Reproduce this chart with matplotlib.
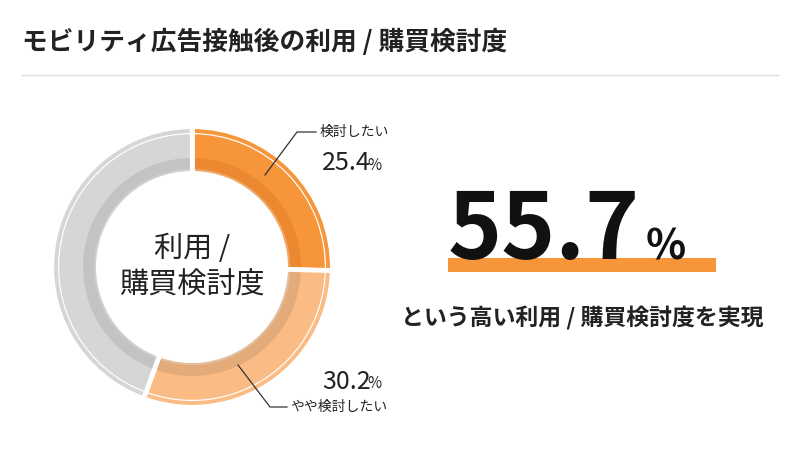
import matplotlib
matplotlib.use("Agg")
import matplotlib.pyplot as plt
from matplotlib.patches import Wedge, Rectangle
import math

plt.rcParams['font.family'] = ['Noto Sans CJK JP', 'DejaVu Sans']

labels = ["検討したい", "やや検討したい", "その他"]
values = [25.4, 30.2, 44.4]
colors = ["#f7953a", "#fbbb84", "#d6d6d8"]
inner_colors = ["#e8842c", "#d9a477", "#bbbbbd"]
total_label = "55.7"
title = "モビリティ広告接触後の利用 / 購買検討度"
subtitle = "という高い利用 / 購買検討度を実現"
center_text = "利用 /\n購買検討度"

fig = plt.figure(figsize=(8, 4.5), dpi=100)
ax = fig.add_axes([0, 0, 1, 1])
ax.set_xlim(0, 800); ax.set_ylim(450, 0); ax.axis('off')

fig.text(22/800, 1-42/450, title, fontsize=18.5, fontweight='bold', va='center', color='#222')
ax.plot([22, 778], [75, 75], color='#dddddd', lw=1)

cx, cy, R, r = 192, 267, 140, 96
start = 90.0
for v, c, ic in zip(values, colors, inner_colors):
    th = v / 100 * 360
    t1, t2 = start - th, start
    ax.add_patch(Wedge((cx, cy), R, -t2, -t1, width=R - r, facecolor=c, edgecolor='white', lw=3))
    ax.add_patch(Wedge((cx, cy), r + 13, -t2, -t1, width=13, facecolor=ic, edgecolor='none', alpha=0.7))
    ax.add_patch(Wedge((cx, cy), R - 6, -t2, -t1, width=1.2, facecolor='white', edgecolor='none'))
    start = t1
for v_acc in [0, values[0], values[0] + values[1]]:
    a = math.radians(90 - v_acc / 100 * 360)
    ax.plot([cx + (r - 2) * math.cos(a), cx + (R + 2) * math.cos(a)],
            [cy - (r - 2) * math.sin(a), cy - (R + 2) * math.sin(a)], color='white', lw=3.5)

ax.text(cx, cy, center_text, ha='center', va='center', fontsize=21, color='#222', linespacing=1.3)

ax.plot([265, 297, 316], [175, 132, 132], color='#333', lw=0.9)
ax.text(320, 132, labels[0], fontsize=10, va='center', color='#222')
ax.text(322, 163, f"{values[0]}", fontsize=18, va='center', color='#222')
ax.text(367, 165, "%", fontsize=11, va='center', color='#222')
ax.plot([238, 270, 287], [365, 407, 407], color='#333', lw=0.9)
ax.text(290, 407, labels[1], fontsize=10, va='center', color='#222')
ax.text(322, 382, f"{values[1]}", fontsize=18, va='center', color='#222')
ax.text(367, 384, "%", fontsize=11, va='center', color='#222')

ax.add_patch(Rectangle((448, 258), 268, 14, facecolor='#f7953a', edgecolor='none'))
ax.text(640, 232, total_label, fontsize=66, fontweight='bold', ha='right', va='center', color='#111')
ax.text(646, 248, "%", fontsize=30, fontweight='bold', ha='left', va='center', color='#111')
ax.text(582, 318, subtitle, fontsize=16.5, fontweight='bold', ha='center', va='center', color='#222')

fig.savefig("out.png", dpi=100, facecolor='white')
